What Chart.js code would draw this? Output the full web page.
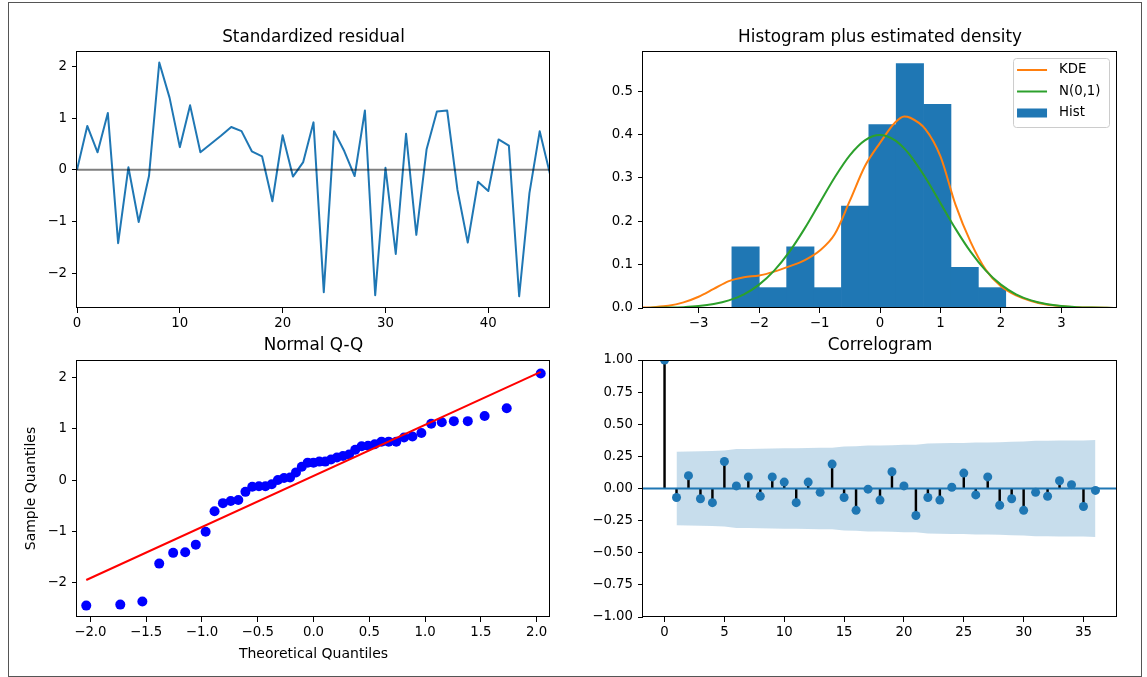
<!DOCTYPE html>
<html>
<head>
<meta charset="utf-8">
<title>Residual diagnostics</title>
<script src="https://cdn.jsdelivr.net/npm/chart.js@4.4.1/dist/chart.umd.min.js"></script>
<style>
  html, body { margin: 0; padding: 0; background: #fff; }
  #fig { position: relative; width: 1147px; height: 677px; overflow: hidden; background: #fff; }
  #border { position: absolute; left: 8px; top: 2px; width: 1132px; height: 673px; border: 1px solid #555; }
  canvas { position: absolute; }
</style>
</head>
<body>
<div id="fig">
  <div id="border"></div>
  <canvas id="resid" width="560" height="334" style="left:0;top:0"></canvas>
  <canvas id="hist" width="587" height="334" style="left:560px;top:0"></canvas>
  <canvas id="qq" width="560" height="343" style="left:0;top:334px"></canvas>
  <canvas id="acf" width="587" height="343" style="left:560px;top:334px"></canvas>
</div>
<script>
// ---- standardized residuals (one per time step) ----
const residuals = [
  0.00, 0.85, 0.34, 1.10, -1.42, 0.05, -1.01, -0.12, 2.08, 1.40,
  0.44, 1.25, 0.34, 0.50, 0.66, 0.83, 0.75, 0.36, 0.26, -0.61,
  0.67, -0.13, 0.15, 0.92, -2.37, 0.75, 0.36, -0.12, 1.15, -2.43,
  0.04, -1.63, 0.70, -1.26, 0.40, 1.13, 1.15, -0.39, -1.41, -0.23,
  -0.41, 0.59, 0.47, -2.45, -0.45, 0.75, -0.08
];
const timeIndex = residuals.map((_, i) => i);
const residTicksX = [0, 10, 20, 30, 40];
const residTicksY = [-2, -1, 0, 1, 2];

// ---- histogram and density curves ----
const histEdges = [-2.45, -1.997, -1.544, -1.091, -0.638, -0.185, 0.268, 0.721, 1.174, 1.627, 2.08];
const histDensity = [0.141, 0.047, 0.141, 0.047, 0.235, 0.423, 0.564, 0.470, 0.094, 0.047];
const densityGrid = [
  -3.92, -3.75, -3.5, -3.25, -3.0, -2.75, -2.5, -2.25, -2.0, -1.75, -1.5, -1.25,
  -1.0, -0.75, -0.5, -0.25, 0, 0.25, 0.4, 0.5, 0.75, 1.0, 1.25, 1.5, 1.75,
  2.0, 2.25, 2.5, 2.75, 3.0, 3.25, 3.5, 3.75, 3.92
];
const kdeDensity = [
  0.001, 0.002, 0.005, 0.013, 0.026, 0.044, 0.062, 0.071, 0.075, 0.084, 0.096, 0.110,
  0.132, 0.170, 0.247, 0.327, 0.381, 0.428, 0.442, 0.439, 0.413, 0.350, 0.238, 0.152, 0.088,
  0.050, 0.029, 0.016, 0.008, 0.004, 0.002, 0.001, 0.0004, 0.0002
];
const normalDensity = [
  0.0002, 0.0004, 0.0009, 0.0020, 0.0044, 0.0091, 0.0175, 0.0317, 0.0540, 0.0863, 0.1295, 0.1826,
  0.2420, 0.3011, 0.3521, 0.3867, 0.3989, 0.3867, 0.3683, 0.3521, 0.3011, 0.2420, 0.1826, 0.1295, 0.0863,
  0.0540, 0.0317, 0.0175, 0.0091, 0.0044, 0.0020, 0.0009, 0.0004, 0.0002
];
const histTicksX = [-3, -2, -1, 0, 1, 2, 3];
const histTicksY = [0, 0.1, 0.2, 0.3, 0.4, 0.5];

// ---- normal Q-Q ----
const theoreticalQuantiles = [
  -2.037, -1.732, -1.534, -1.383, -1.258, -1.150, -1.055, -0.967, -0.887, -0.812,
  -0.742, -0.674, -0.610, -0.549, -0.489, -0.431, -0.374, -0.319, -0.264, -0.210,
  -0.157, -0.105, -0.052, 0, 0.052, 0.105, 0.157, 0.210, 0.264, 0.319,
  0.374, 0.431, 0.489, 0.549, 0.610, 0.674, 0.742, 0.812, 0.887, 0.967,
  1.055, 1.150, 1.258, 1.383, 1.534, 1.732, 2.037
];
const sampleQuantiles = [
  -2.45, -2.43, -2.37, -1.63, -1.42, -1.41, -1.26, -1.01, -0.61, -0.45,
  -0.41, -0.39, -0.23, -0.13, -0.12, -0.12, -0.08, 0.00, 0.04, 0.05,
  0.15, 0.26, 0.34, 0.34, 0.36, 0.36, 0.40, 0.44, 0.47, 0.50,
  0.59, 0.66, 0.67, 0.70, 0.75, 0.75, 0.75, 0.83, 0.85, 0.92,
  1.10, 1.13, 1.15, 1.15, 1.25, 1.40, 2.08
];
const qqLineX = [-2.037, 2.037];
const qqLineY = [-1.95, 2.11];
const qqTicksX = [-2, -1.5, -1, -0.5, 0, 0.5, 1, 1.5, 2];
const qqTicksY = [-2, -1, 0, 1, 2];

// ---- correlogram ----
const acfLags = [0, 1, 2, 3, 4, 5, 6, 7, 8, 9, 10, 11, 12, 13, 14, 15, 16, 17, 18,
  19, 20, 21, 22, 23, 24, 25, 26, 27, 28, 29, 30, 31, 32, 33, 34, 35, 36];
const acfValues = [
  1.00, -0.07, 0.10, -0.08, -0.11, 0.21, 0.02, 0.09, -0.06, 0.09,
  0.05, -0.11, 0.05, -0.03, 0.19, -0.07, -0.17, -0.005, -0.09, 0.13,
  0.02, -0.21, -0.07, -0.09, 0.01, 0.12, -0.05, 0.09, -0.13, -0.08,
  -0.17, -0.03, -0.06, 0.06, 0.03, -0.14, -0.015
];
// half-width of the confidence band for lags 1..36
const acfBand = [
  0.286, 0.287, 0.290, 0.292, 0.295, 0.307, 0.307, 0.310, 0.311, 0.313,
  0.313, 0.316, 0.317, 0.317, 0.326, 0.328, 0.335, 0.335, 0.337, 0.341,
  0.341, 0.351, 0.353, 0.354, 0.354, 0.358, 0.358, 0.360, 0.364, 0.365,
  0.372, 0.372, 0.373, 0.373, 0.373, 0.378
];
const acfTicksX = [0, 5, 10, 15, 20, 25, 30, 35];
const acfTicksY = [-1, -0.75, -0.5, -0.25, 0, 0.25, 0.5, 0.75, 1];

// ---- styling ----
const FONT = "'DejaVu Sans', 'Liberation Sans', sans-serif";
const C0 = '#1f77b4';
const ORANGE = '#ff7f0e';
const GREEN = '#2ca02c';
Chart.defaults.font.family = FONT;
Chart.defaults.color = '#000';
Chart.defaults.animation = false;

const fmt = (decimals) => (v) => (v < 0 ? '\u2212' : '') + Math.abs(v).toFixed(decimals);

function axis(side, min, max, ticks, decimals, size, title) {
  const horizontal = side === 'bottom';
  return {
    type: 'linear', position: side, min, max, offset: false,
    grid: { display: true, drawOnChartArea: false, drawTicks: true, tickLength: 5,
            tickWidth: 1, tickColor: '#000', color: '#000', offset: false },
    border: { display: false },
    ticks: { font: { size: 13.3 }, color: '#000', padding: horizontal ? 3 : 5,
             autoSkip: false, maxRotation: 0, minRotation: 0, callback: fmt(decimals) },
    title: title ? { display: true, text: title.text, color: '#000', font: { size: 14 },
                     padding: title.padding } : { display: false },
    afterBuildTicks: (s) => { s.ticks = ticks.map(v => ({ value: v })); },
    afterFit: (s) => { if (horizontal) s.height = size; else s.width = size; }
  };
}

// panel title; total block height = 20.16 + top + bottom
function titleOpts(text, top, bottom) {
  return { display: true, text, fullSize: false, color: '#000',
           font: { size: 16.8, weight: 'normal' },
           padding: { top: top, bottom: bottom } };
}

// axes frame on all four sides
const frame = {
  id: 'frame',
  afterDatasetsDraw(chart) {
    const { ctx, chartArea: a } = chart;
    ctx.save();
    ctx.strokeStyle = '#000';
    ctx.lineWidth = 1;
    const l = Math.round(a.left) - 0.5, t = Math.round(a.top) + 0.5;
    const r = Math.round(a.right) - 0.5, b = Math.round(a.bottom) - 0.5;
    ctx.strokeRect(l, t, r - l, b - t);
    ctx.restore();
  }
};

// boxed legend in the upper right corner of the axes
const boxLegend = {
  id: 'boxLegend',
  afterDraw(chart) {
    const { ctx, chartArea: a } = chart;
    const items = chart.data.datasets.filter(d => d.label);
    ctx.save();
    ctx.font = '13.3px ' + FONT;
    const textW = Math.max(...items.map(d => ctx.measureText(d.label).width));
    const padL = 4, handle = 30, gap = 12, padR = 8.5, rowH = 21.5, firstRow = 12, h = 69;
    const w = padL + handle + gap + textW + padR;
    const right = a.right - 8, top = a.top + 7, left = right - w;
    ctx.beginPath();
    ctx.roundRect(left + 0.5, top + 0.5, w, h, 3);
    ctx.fillStyle = 'rgba(255,255,255,0.8)';
    ctx.fill();
    ctx.strokeStyle = '#cccccc';
    ctx.lineWidth = 1;
    ctx.stroke();
    items.forEach((d, i) => {
      const cy = top + firstRow + i * rowH;
      const x0 = left + padL;
      if (d.type === 'line') {
        ctx.strokeStyle = d.borderColor;
        ctx.lineWidth = 2;
        ctx.beginPath();
        ctx.moveTo(x0, cy);
        ctx.lineTo(x0 + handle, cy);
        ctx.stroke();
      } else {
        ctx.fillStyle = d.backgroundColor;
        ctx.fillRect(x0, cy - 4.5, handle, 9);
      }
      ctx.fillStyle = '#000';
      ctx.textBaseline = 'middle';
      ctx.textAlign = 'left';
      ctx.fillText(d.label, x0 + handle + gap, cy);
    });
    ctx.restore();
  }
};

const base = (pad) => ({
  responsive: false, animation: false, devicePixelRatio: 1,
  layout: { padding: { left: 0, right: pad, top: 0, bottom: 0 } },
  events: []
});

// 1. standardized residual
new Chart(document.getElementById('resid'), {
  type: 'line',
  data: {
    datasets: [
      { data: residuals.map((v, i) => ({ x: timeIndex[i], y: v })), borderColor: C0,
        borderWidth: 2, pointRadius: 0, tension: 0, borderJoinStyle: 'round', order: 2 },
      { data: [{ x: timeIndex[0], y: 0 }, { x: timeIndex[timeIndex.length - 1], y: 0 }],
        borderColor: 'rgba(0,0,0,0.5)', borderWidth: 2, pointRadius: 0, order: 1 }
    ]
  },
  options: {
    ...base(10),
    plugins: { legend: { display: false }, tooltip: { enabled: false },
               title: titleOpts('Standardized residual', 27.9, 2.94) },
    scales: {
      x: axis('bottom', 0, 46, residTicksX, 0, 26),
      y: axis('left', -2.677, 2.303, residTicksY, 0, 77)
    }
  },
  plugins: [frame]
});

// 2. histogram plus estimated density
const binCenters = histDensity.map((_, i) => (histEdges[i] + histEdges[i + 1]) / 2);
new Chart(document.getElementById('hist'), {
  type: 'bar',
  data: {
    datasets: [
      { type: 'line', label: 'KDE', data: densityGrid.map((x, i) => ({ x, y: kdeDensity[i] })),
        borderColor: ORANGE, borderWidth: 2, pointRadius: 0, cubicInterpolationMode: 'monotone',
        borderJoinStyle: 'round', order: 2 },
      { type: 'line', label: 'N(0,1)', data: densityGrid.map((x, i) => ({ x, y: normalDensity[i] })),
        borderColor: GREEN, borderWidth: 2, pointRadius: 0, cubicInterpolationMode: 'monotone',
        borderJoinStyle: 'round', order: 1 },
      { type: 'bar', label: 'Hist', data: binCenters.map((x, i) => ({ x, y: histDensity[i] })),
        backgroundColor: C0, borderWidth: 0, barPercentage: 1, categoryPercentage: 1,
        grouped: false, order: 3 }
    ]
  },
  options: {
    ...base(30),
    plugins: { legend: { display: false }, tooltip: { enabled: false },
               title: titleOpts('Histogram plus estimated density', 27.9, 2.94) },
    scales: {
      x: axis('bottom', -3.92, 3.92, histTicksX, 0, 26),
      y: axis('left', 0, 0.593, histTicksY, 1, 83)
    }
  },
  plugins: [frame, boxLegend]
});

// 3. normal Q-Q
new Chart(document.getElementById('qq'), {
  type: 'scatter',
  data: {
    datasets: [
      { data: theoreticalQuantiles.map((x, i) => ({ x, y: sampleQuantiles[i] })),
        backgroundColor: '#0000ff', borderWidth: 0, pointRadius: 5, order: 2 },
      { type: 'line', data: qqLineX.map((x, i) => ({ x, y: qqLineY[i] })), showLine: true,
        borderColor: '#ff0000', borderWidth: 2, pointRadius: 0, order: 1 }
    ]
  },
  options: {
    ...base(10),
    plugins: { legend: { display: false }, tooltip: { enabled: false },
               title: titleOpts('Normal Q-Q', 1.9, 3.94) },
    scales: {
      x: axis('bottom', -2.12, 2.12, qqTicksX, 1, 60,
              { text: 'Theoretical Quantiles', padding: { top: 0, bottom: 14.3 } }),
      y: axis('left', -2.672, 2.343, qqTicksY, 0, 77,
              { text: 'Sample Quantiles', padding: { top: 23.3, bottom: 0 } })
    }
  },
  plugins: [frame]
});

// 4. correlogram
const bandLags = acfLags.slice(1);
new Chart(document.getElementById('acf'), {
  type: 'bar',
  data: {
    datasets: [
      { type: 'line', data: bandLags.map((x, i) => ({ x, y: acfBand[i] })), fill: '+1',
        backgroundColor: 'rgba(31,119,180,0.25)', borderWidth: 0, pointRadius: 0, order: 5 },
      { type: 'line', data: bandLags.map((x, i) => ({ x, y: -acfBand[i] })), fill: false,
        borderWidth: 0, pointRadius: 0, order: 4 },
      { type: 'bar', data: acfLags.map((x, i) => ({ x, y: acfValues[i] })),
        backgroundColor: '#000', borderWidth: 0, barThickness: 1.8, grouped: false, order: 3 },
      { type: 'line', data: [{ x: -1.8, y: 0 }, { x: 37.8, y: 0 }],
        borderColor: C0, borderWidth: 1.8, pointRadius: 0, order: 2 },
      { type: 'scatter', data: acfLags.map((x, i) => ({ x, y: acfValues[i] })),
        backgroundColor: C0, borderWidth: 0, pointRadius: 4.5, order: 1 }
    ]
  },
  options: {
    ...base(30),
    plugins: { legend: { display: false }, tooltip: { enabled: false },
               title: titleOpts('Correlogram', 1.9, 3.94) },
    scales: {
      x: axis('bottom', -1.8, 37.8, acfTicksX, 0, 60),
      y: axis('left', -1, 1, acfTicksY, 2, 83)
    }
  },
  plugins: [frame]
});
</script>
</body>
</html>
